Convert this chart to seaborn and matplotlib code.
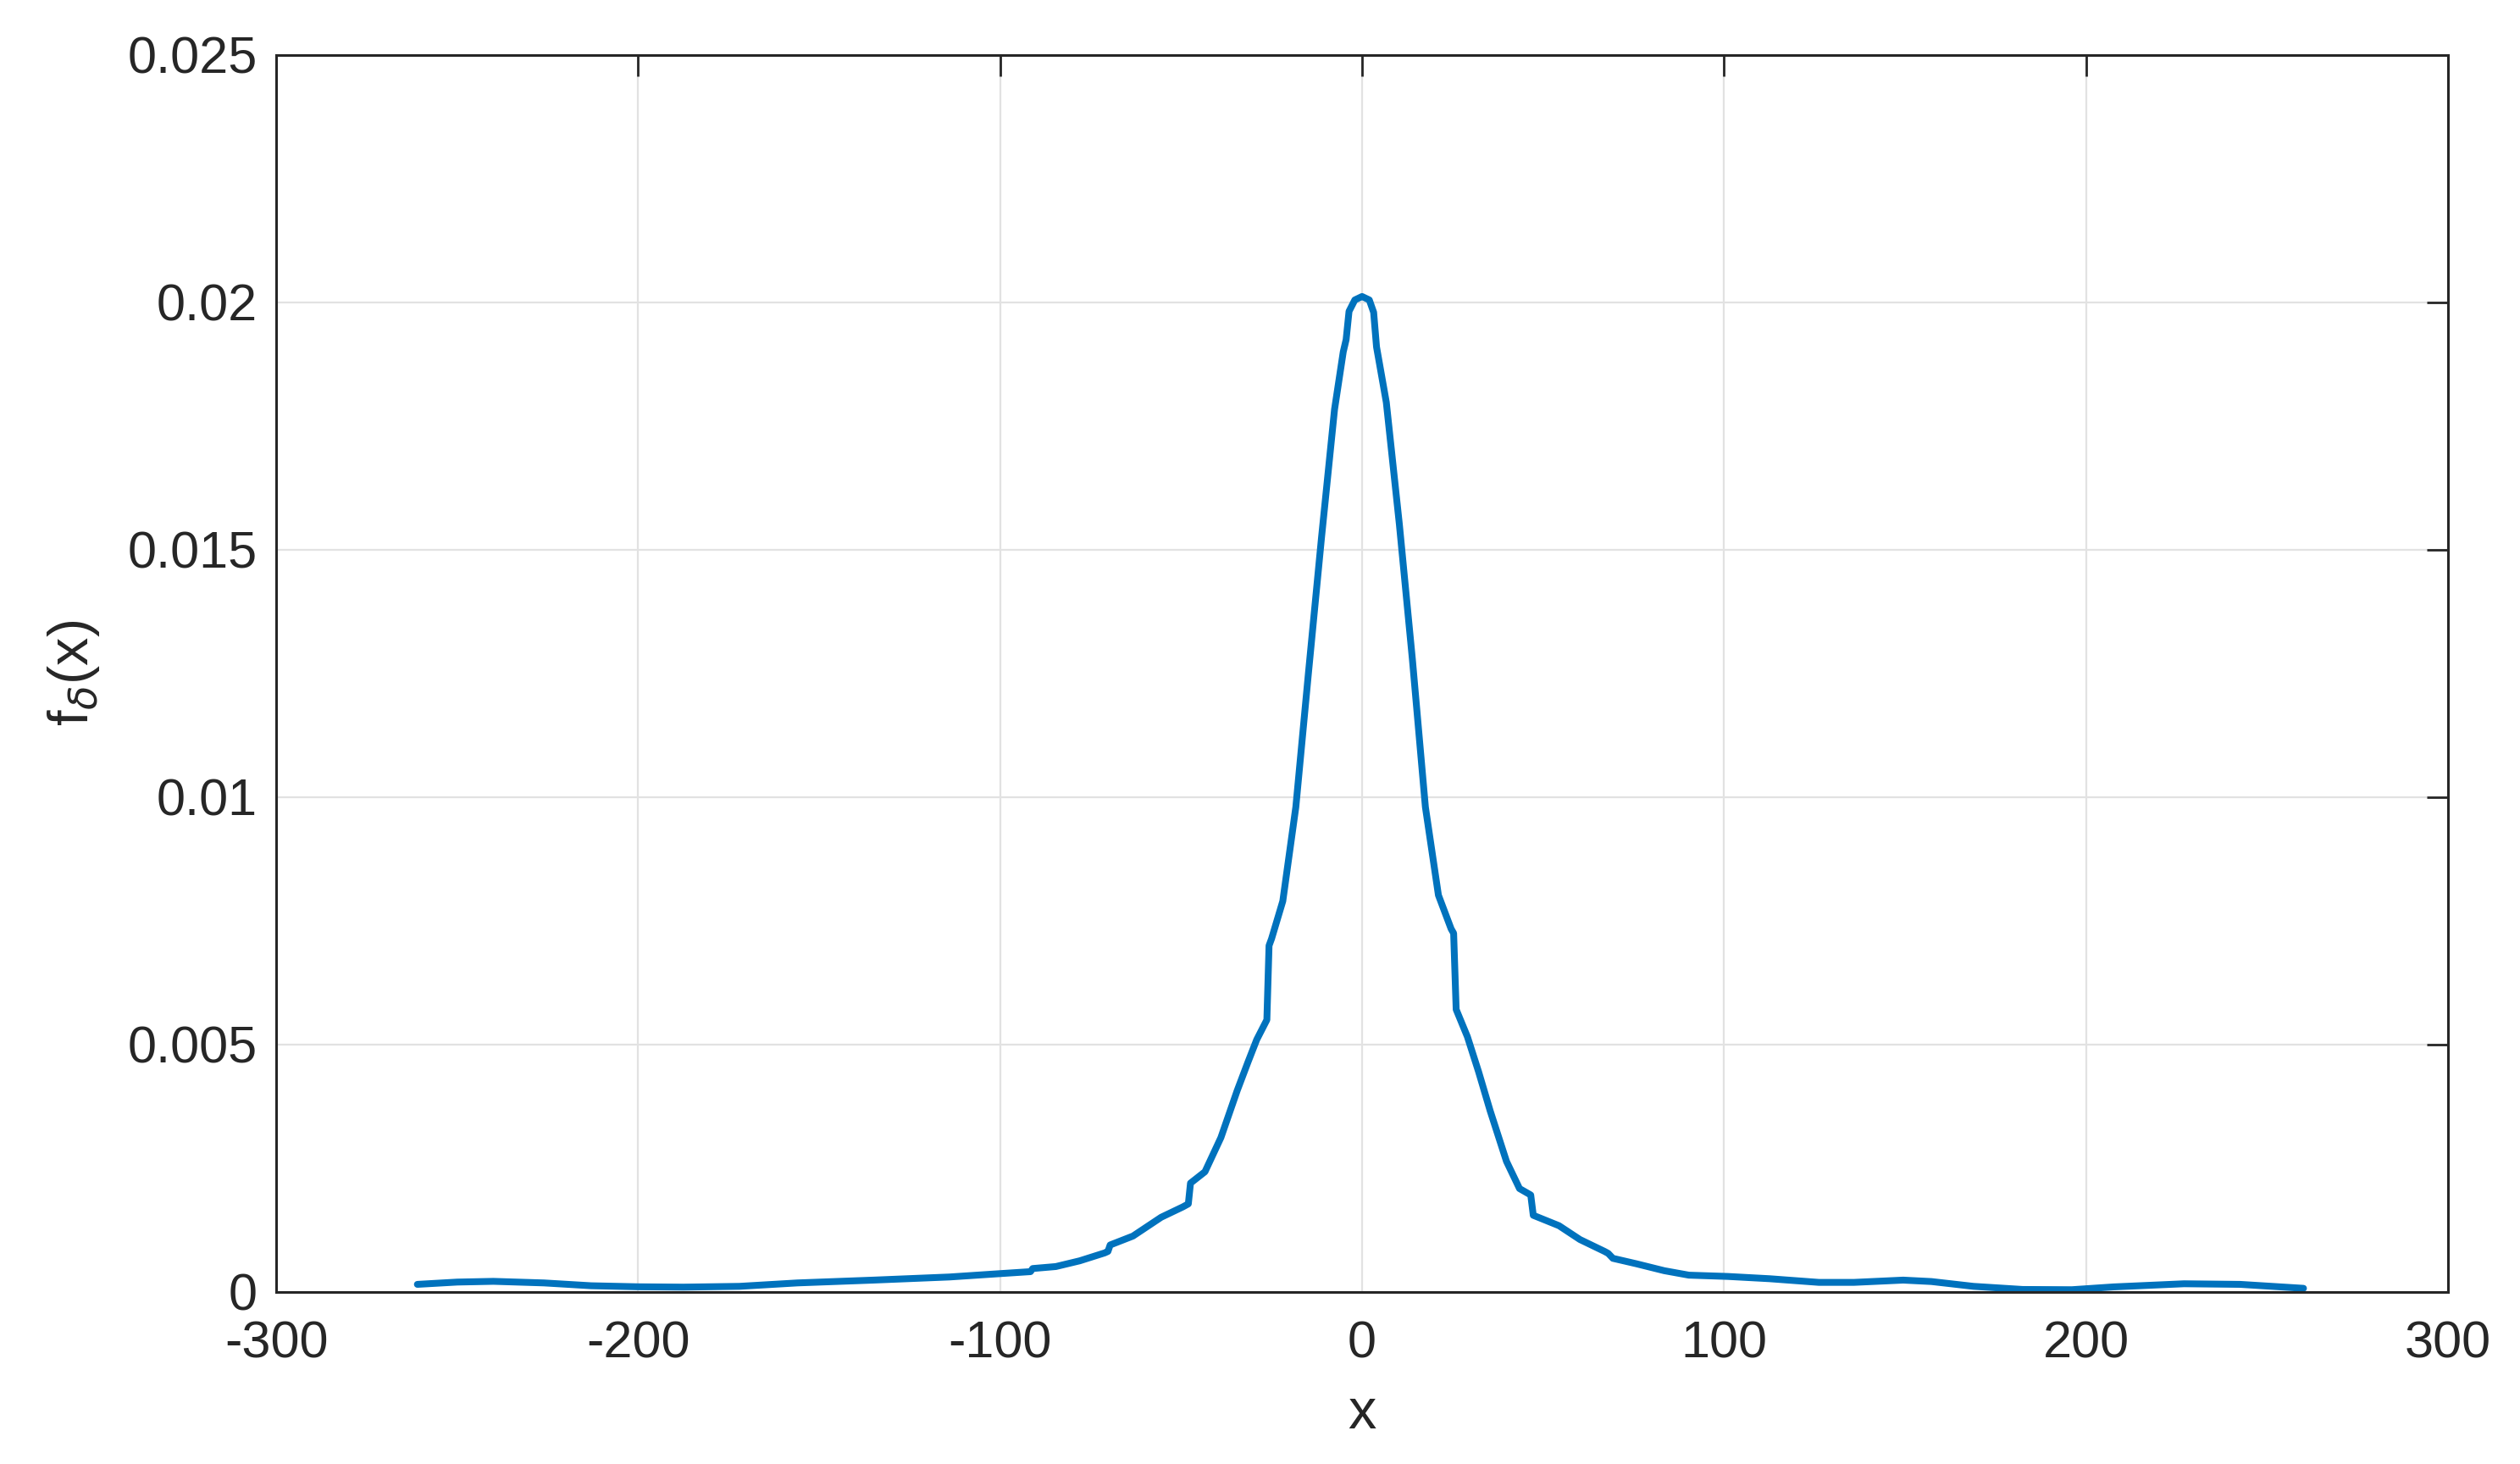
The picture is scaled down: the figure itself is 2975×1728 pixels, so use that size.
"""
Density estimate f_delta(x), MATLAB-style line chart.
"""
import numpy as np
import pandas as pd
import matplotlib
matplotlib.use('Agg')
import matplotlib.pyplot as plt
import seaborn as sns

# values
x_vals = [-261, -250, -240, -226, -213, -200, -187.5, -172, -156, -135,
          -114, -100, -91.6, -91.0, -84.6, -78, -71.1, -70.2, -69.6, -63.3,
          -55.5, -49.5, -48.0, -47.4, -43.4, -39, -34.5, -31.5, -29.1, -26.3, -25.7,
          -25.0, -21.9, -18.3, -14.8, -11.2, -7.6, -5.2, -4.4, -3.6, -2.0,
          0.0, 2.0, 3.2, 4.0, 6.7, 10.3, 13.9, 17.5, 21.1, 24.6,
          25.3, 26.0, 29.1, 32.2, 35.4, 39.9, 43.5, 46.6, 47.3, 54.4, 60.2,
          67.0, 68.0, 69.3, 75.8, 83.5, 90.3, 101, 112.6, 126.2, 135.9,
          149.5, 157.3, 168.9, 182.5, 196.1, 207.7, 227.1, 242.6, 260.1]
density = [0.000154, 0.000200, 0.000215, 0.000183, 0.000126, 0.000105, 0.000098, 0.000114, 0.000183, 0.000240,
           0.000303, 0.000371, 0.000411, 0.000474, 0.000514, 0.000630, 0.000790, 0.000820, 0.000950, 0.00113,
           0.00151, 0.00172, 0.00178, 0.00220, 0.00243, 0.00312, 0.00407, 0.00465, 0.00510, 0.00550, 0.00700,
           0.00714, 0.00790, 0.00980, 0.01252, 0.01525, 0.01784, 0.01900, 0.01925, 0.01982, 0.02005,
           0.02012, 0.02005, 0.01980, 0.01910, 0.01798, 0.01552, 0.01279, 0.00980, 0.00802, 0.00734,
           0.00725, 0.00571, 0.00516, 0.00445, 0.00366, 0.00264, 0.00209, 0.00196, 0.00155, 0.00134, 0.00106,
           0.00082, 0.00078, 0.00068, 0.00057, 0.00043, 0.00034, 0.000314, 0.000268, 0.000194, 0.000194,
           0.000240, 0.000211, 0.000114, 0.000051, 0.000046, 0.000103, 0.000166, 0.000154, 0.000074]

x_ticks = [-300, -200, -100, 0, 100, 200, 300]
y_ticks = [0, 0.005, 0.01, 0.015, 0.02, 0.025]
y_tick_labels = ['0', '0.005', '0.01', '0.015', '0.02', '0.025']

sns.set_theme(style='whitegrid')
plt.rcParams['font.family'] = ['Liberation Sans', 'DejaVu Sans']
plt.rcParams['mathtext.fontset'] = 'dejavusans'

dark = '#262626'
df = pd.DataFrame({'x': x_vals, 'f': density})

fig = plt.figure(figsize=(14.875, 8.64), dpi=200)
ax = fig.add_axes([0.1096, 0.1175, 0.8618, 0.8449])
sns.lineplot(data=df, x='x', y='f', ax=ax, sort=False, estimator=None,
             color='#0072BD', linewidth=2.9)

ax.set_xlim(-300, 300)
ax.set_ylim(0, 0.025)
ax.set_xticks(x_ticks)
ax.set_xticklabels([str(t) for t in x_ticks])
ax.set_yticks(y_ticks)
ax.set_yticklabels(y_tick_labels)

ax.grid(True, color='#e2e2e2', linewidth=0.8)
ax.set_facecolor('white')
for side in ax.spines.values():
    side.set_visible(True)
    side.set_color(dark)
    side.set_linewidth(1.1)

ax.tick_params(axis='both', direction='in', length=9, width=1.0, color=dark,
               labelsize=22, labelcolor=dark, top=True, right=True)
ax.tick_params(axis='x', pad=12)
ax.tick_params(axis='y', pad=8)

ax.set_xlabel('x', fontsize=24, color=dark, labelpad=8)
ax.set_ylabel(r'f$_{\delta}$(x)', fontsize=24, color=dark, labelpad=11)

fig.savefig('out.png', dpi=200)
plt.close(fig)
